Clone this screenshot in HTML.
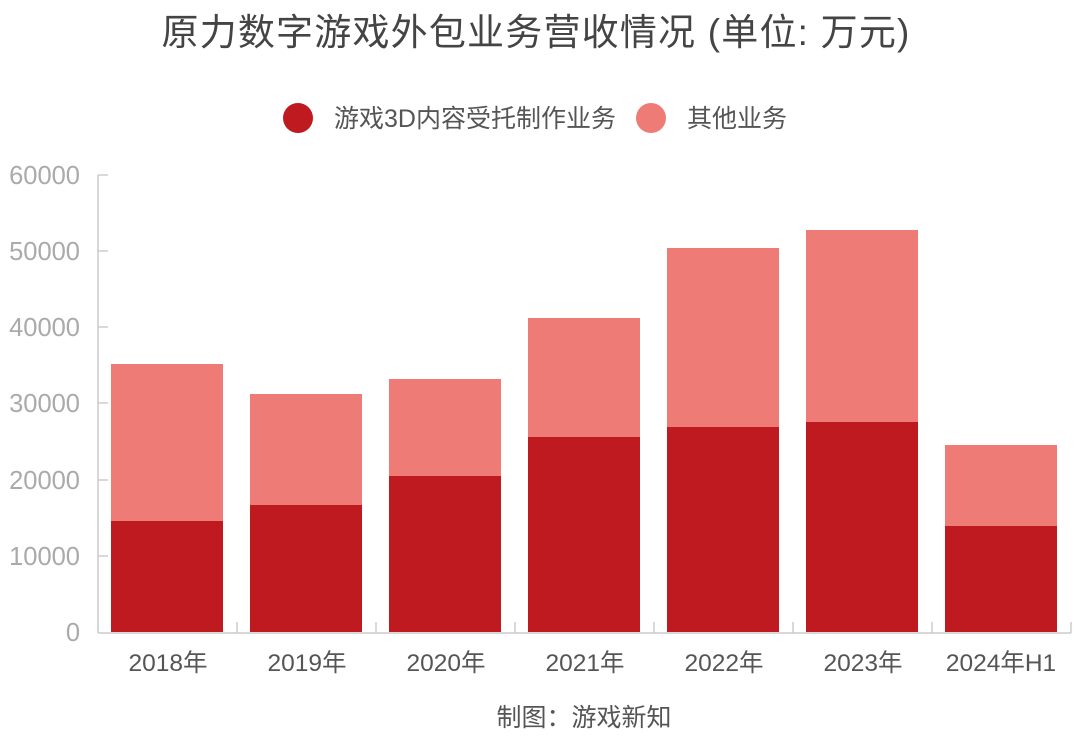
<!DOCTYPE html>
<html><head><meta charset="utf-8"><style>
html,body{margin:0;padding:0;background:#fff;}
svg text{font-family:"Liberation Sans","Noto Sans CJK SC",sans-serif;}
</style></head><body>
<svg width="1080" height="741" viewBox="0 0 1080 741" xmlns="http://www.w3.org/2000/svg">
<rect width="1080" height="741" fill="#fff"/>
<text x="536" y="45" font-size="37" fill="#444" text-anchor="middle" letter-spacing="1.2">原力数字游戏外包业务营收情况 (单位: 万元)</text>
<circle cx="298" cy="118" r="15" fill="#be1a20"/>
<text x="334" y="127" font-size="25" fill="#555">游戏3D内容受托制作业务</text>
<circle cx="651" cy="118" r="15" fill="#ef7b77"/>
<text x="687" y="127" font-size="25" fill="#555">其他业务</text>
<g font-size="25.5" fill="#aaa" text-anchor="end">
<text x="80" y="184">60000</text><text x="80" y="260">50000</text><text x="80" y="336">40000</text>
<text x="80" y="412">30000</text><text x="80" y="489">20000</text><text x="80" y="565">10000</text><text x="80" y="641">0</text>
</g>
<g stroke="#ccc" stroke-width="1.5" fill="none">
<line x1="98" y1="175" x2="98" y2="633"/>
<line x1="98" y1="633" x2="1071" y2="633"/>
<line x1="98" y1="175" x2="108" y2="175"/><line x1="98" y1="251" x2="108" y2="251"/>
<line x1="98" y1="327" x2="108" y2="327"/><line x1="98" y1="403" x2="108" y2="403"/>
<line x1="98" y1="480" x2="108" y2="480"/><line x1="98" y1="556" x2="108" y2="556"/>
<line x1="237" y1="622" x2="237" y2="633"/><line x1="376" y1="622" x2="376" y2="633"/>
<line x1="515" y1="622" x2="515" y2="633"/><line x1="654" y1="622" x2="654" y2="633"/>
<line x1="793" y1="622" x2="793" y2="633"/><line x1="932" y1="622" x2="932" y2="633"/>
<line x1="1071" y1="622" x2="1071" y2="633"/>
</g>
<g fill="#ef7b77">
<rect x="111" y="364" width="112" height="157"/>
<rect x="250" y="394" width="112" height="111"/>
<rect x="389" y="379" width="112" height="97"/>
<rect x="528" y="318" width="112" height="119"/>
<rect x="667" y="248" width="112" height="179"/>
<rect x="806" y="230" width="112" height="192"/>
<rect x="945" y="445" width="112" height="81"/>
</g>
<g fill="#be1a20">
<rect x="111" y="521" width="112" height="111"/>
<rect x="250" y="505" width="112" height="127"/>
<rect x="389" y="476" width="112" height="156"/>
<rect x="528" y="437" width="112" height="195"/>
<rect x="667" y="427" width="112" height="205"/>
<rect x="806" y="422" width="112" height="210"/>
<rect x="945" y="526" width="112" height="106"/>
</g>
<g font-size="24.5" fill="#555" text-anchor="middle">
<text x="168" y="671">2018年</text><text x="307" y="671">2019年</text><text x="446" y="671">2020年</text>
<text x="585" y="671">2021年</text><text x="724" y="671">2022年</text><text x="863" y="671">2023年</text>
<text x="1001" y="671">2024年H1</text>
</g>
<text x="584" y="726" font-size="25" fill="#555" text-anchor="middle">制图：游戏新知</text>
</svg>
</body></html>
